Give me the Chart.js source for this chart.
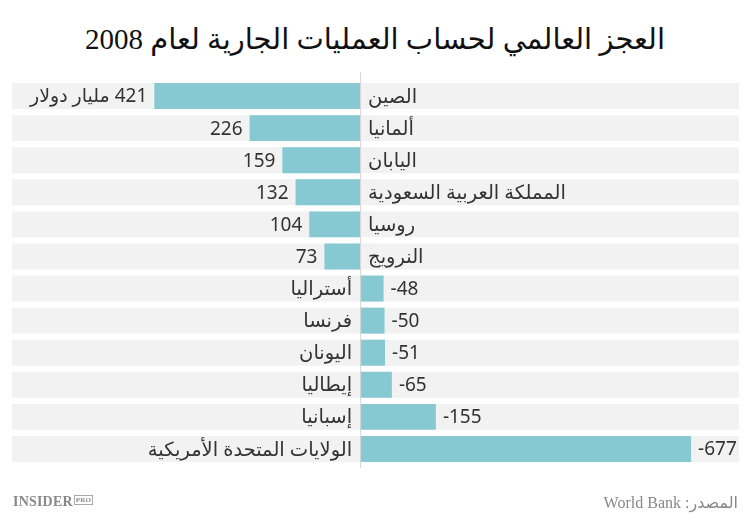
<!DOCTYPE html>
<html lang="ar">
<head>
<meta charset="utf-8">
<title>العجز العالمي لحساب العمليات الجارية لعام 2008</title>
<script src="https://cdn.jsdelivr.net/npm/chart.js@4.4.1/dist/chart.umd.min.js"></script>
<style>
    html, body { margin: 0; padding: 0; background: #fff; }
    .wrap { position: relative; width: 750px; height: 523px; overflow: hidden; }
    .title {
        position: absolute; top: 22px; left: 0; width: 750px; text-align: center;
        font-family: "Liberation Serif", "DejaVu Sans", serif; font-size: 29px; color: #111;
        direction: rtl;
    }
    .brand {
        position: absolute; left: 13px; top: 494px;
        font-family: "Liberation Serif", serif; font-weight: bold; font-size: 14px; color: #888;
        letter-spacing: 0.2px;
    }
    .brand span {
        font-size: 7px; border: 1px solid #aaa; padding: 0 1px; vertical-align: 4px; margin-left: 1px;
    }
    .source {
        position: absolute; right: 12px; top: 493px; direction: rtl;
        font-family: "Liberation Serif", "DejaVu Sans", serif; font-size: 16px; color: #888;
    }
    #chart { position: absolute; left: 0; top: 0; }
</style>
</head>
<body>
<div class="wrap">
    <div class="title">العجز العالمي لحساب العمليات الجارية لعام 2008</div>
    <canvas id="chart" width="750" height="523"></canvas>
    <div class="brand">INSIDER<span>PRO</span></div>
    <div class="source">المصدر: World Bank</div>
</div>
<script>
const countries = ["الصين", "ألمانيا", "اليابان", "المملكة العربية السعودية", "روسيا", "النرويج",
    "أستراليا", "فرنسا", "اليونان", "إيطاليا", "إسبانيا", "الولايات المتحدة الأمريكية"];
const balances = [421, 226, 159, 132, 104, 73, -48, -50, -51, -65, -155, -677];
const valueLabels = ["421 مليار دولار", "226", "159", "132", "104", "73",
    "-48", "-50", "-51", "-65", "-155", "-677"];
const axisMin = -775;
const axisMax = 712;

// gray row bands span the full axis
const bands = countries.map(() => [axisMin, axisMax]);

const nameFont = '19.5px "Noto Sans", "DejaVu Sans", sans-serif';
const valueFont = '19px "Noto Sans", "DejaVu Sans", sans-serif';

const rowLabels = {
    id: 'rowLabels',
    afterDatasetsDraw(chart) {
        const ctx = chart.ctx;
        const x = chart.scales.x;
        const zero = x.getPixelForValue(0);
        const meta = chart.getDatasetMeta(1);

        // zero line
        ctx.save();
        ctx.strokeStyle = '#d6d6d6';
        ctx.lineWidth = 1;
        ctx.beginPath();
        ctx.moveTo(zero + 0.5, 72);
        ctx.lineTo(zero + 0.5, 468);
        ctx.stroke();

        ctx.fillStyle = '#333';
        ctx.textBaseline = 'middle';
        meta.data.forEach((bar, i) => {
            const v = balances[i];
            const y = bar.y + 1;
            ctx.direction = 'rtl';
            if (v >= 0) {
                ctx.font = nameFont;
                ctx.textAlign = 'left';
                ctx.fillText(countries[i], zero + 8, y);
                ctx.font = valueFont;
                ctx.textAlign = 'right';
                ctx.fillText(valueLabels[i], bar.x - 7, y);
            } else {
                ctx.font = nameFont;
                ctx.textAlign = 'right';
                ctx.fillText(countries[i], zero - 8, y);
                ctx.font = valueFont;
                ctx.direction = 'ltr';
                ctx.textAlign = 'left';
                ctx.fillText(valueLabels[i], bar.x + 7, y);
            }
        });
        ctx.restore();
    }
};

new Chart(document.getElementById('chart'), {
    type: 'bar',
    data: {
        labels: countries,
        datasets: [
            {
                data: bands,
                backgroundColor: '#f2f2f2',
                grouped: false,
                order: 2,
                barPercentage: 0.81,
                categoryPercentage: 1
            },
            {
                data: balances,
                backgroundColor: '#87c9d3',
                grouped: false,
                order: 1,
                barPercentage: 0.81,
                categoryPercentage: 1
            }
        ]
    },
    options: {
        indexAxis: 'y',
        responsive: false,
        animation: false,
        layout: { padding: { top: 80, bottom: 58, left: 12, right: 11 } },
        scales: {
            x: { display: false, reverse: true, min: axisMin, max: axisMax },
            y: { display: false }
        },
        plugins: {
            legend: { display: false },
            tooltip: { enabled: false },
            title: { display: false }
        }
    },
    plugins: [rowLabels]
});
</script>
</body>
</html>
